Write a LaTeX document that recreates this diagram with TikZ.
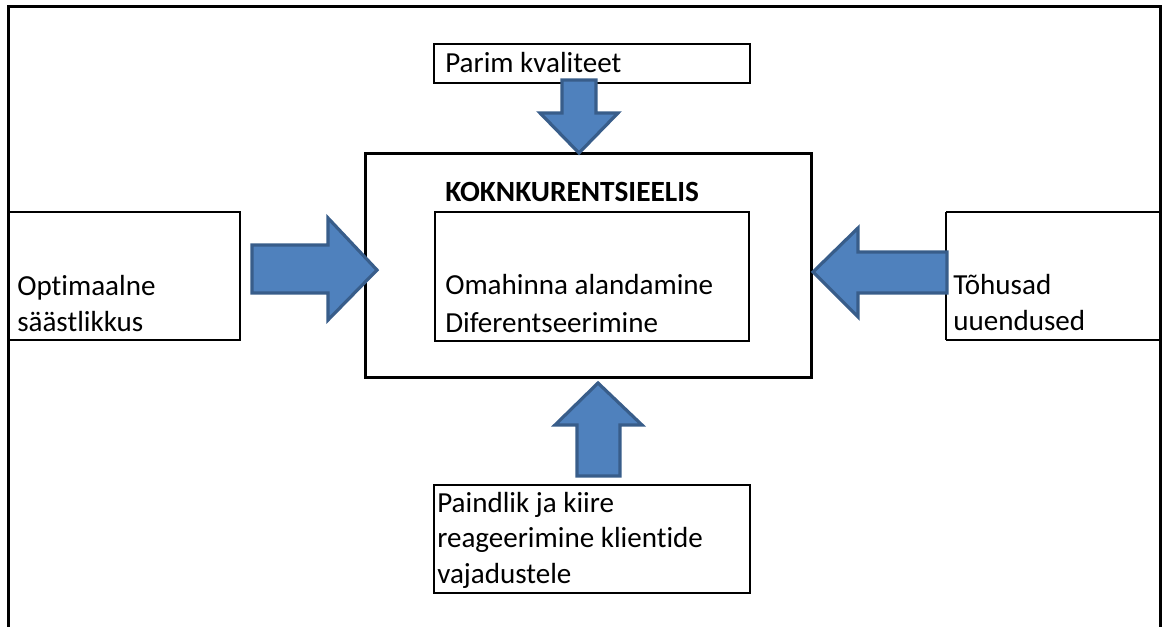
\documentclass[tikz,border=0pt]{standalone}
\usepackage{fontspec}
\setmainfont{Carlito}[Ligatures=NoCommon]
\definecolor{arrfill}{HTML}{4F81BD}
\definecolor{arrline}{HTML}{385D8A}
\begin{document}
\begin{tikzpicture}[x=0.75pt,y=-0.75pt,
  thinbox/.style={draw=black,line width=1.5pt,inner sep=0pt,outer sep=0pt},
  thickbox/.style={draw=black,line width=2.25pt,inner sep=0pt,outer sep=0pt},
  txt/.style={anchor=base west,inner sep=0pt,align=left,font=\fontsize{21.8}{26.3}\selectfont},
  blockarrow/.style={fill=arrfill,draw=arrline,line width=2.4pt,line join=miter}]
\useasboundingbox (0,0) rectangle (1162,627);
% outer frame (open at the bottom)
\draw[line width=2.25pt] (8,627) -- (8,7) -- (1160,7) -- (1160,627);
% boxes
\draw[thinbox] (434,44) rectangle (750,83);
\node[txt] (top) at (445,73) {Parim kvaliteet};
\draw[thickbox] (365,154) rectangle (811,377);
\node[txt,font=\fontsize{22}{26.3}\selectfont\bfseries] (title) at (445,202) {KOKNKURENTSIEELIS};
\draw[thinbox] (435,212) rectangle (749,341);
\node[txt] (inner) at (445,332) {Omahinna alandamine\\[1.5pt]Diferentseerimine};
\draw[thinbox] (8,212) rectangle (240,340);
\node[txt] (left) at (17,331) {Optimaalne\\säästlikkus};
\draw[thinbox] (946,212) -- (1160,212) (946,340) -- (1160,340) (946,212) -- (946,340);
\node[txt] (right) at (953,330) {Tõhusad\\uuendused};
\draw[thinbox] (434,485) rectangle (750,593);
\node[txt] (bottom) at (437,583) {Paindlik ja kiire\\reageerimine klientide\\vajadustele};
% block arrows
\draw[blockarrow] (562,80) -- (596,80) -- (596,113) -- (618,113) -- (579,153) -- (540,113) -- (562,113) -- cycle;
\draw[blockarrow] (252,245) -- (328,245) -- (328,218) -- (377,270) -- (328,320) -- (328,293) -- (252,293) -- cycle;
\draw[blockarrow] (947,252) -- (858,252) -- (858,228) -- (813,272) -- (858,317) -- (858,293) -- (947,293) -- cycle;
\draw[blockarrow] (577,476) -- (620,476) -- (620,425) -- (642,425) -- (598,383) -- (555,425) -- (577,425) -- cycle;
\end{tikzpicture}
\end{document}
